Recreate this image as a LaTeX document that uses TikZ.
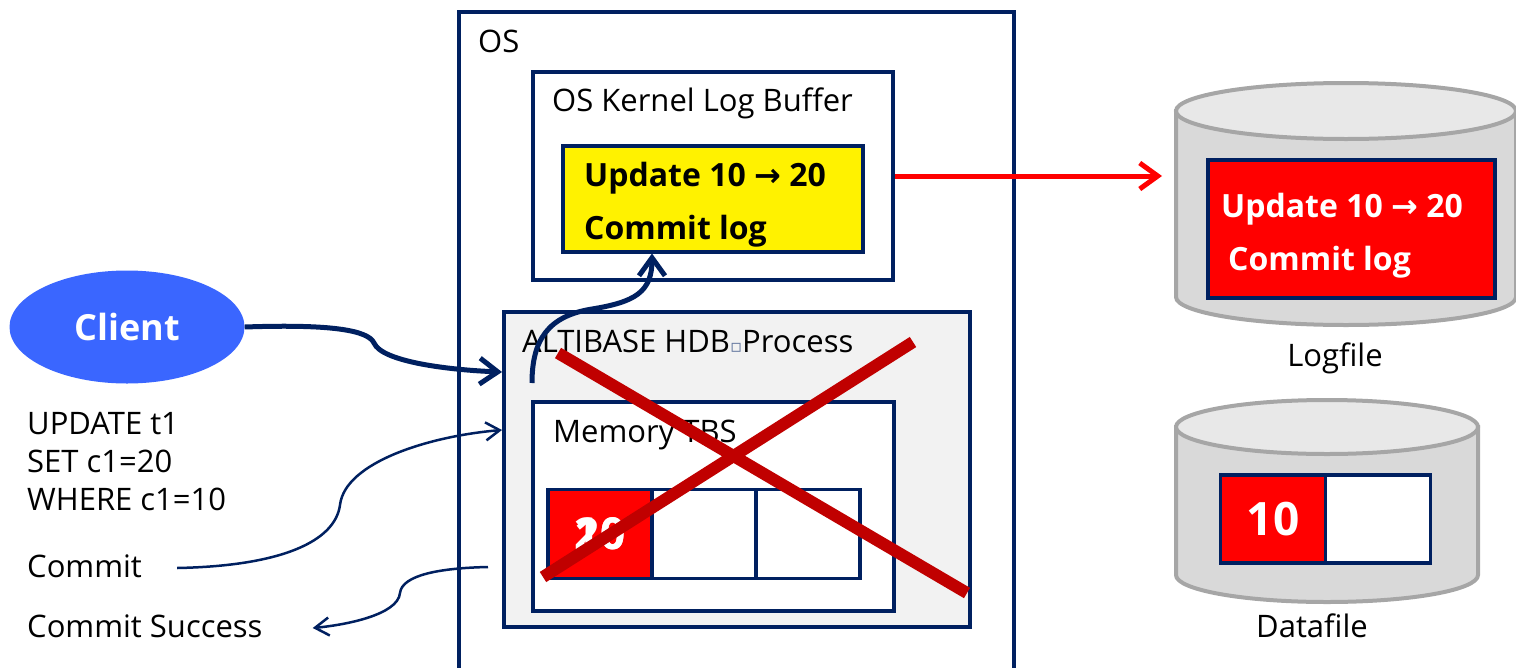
\documentclass[tikz,border=0pt]{standalone}
\usepackage{fontspec}
\setmainfont{Open Sans}
\newfontfamily\dejavu{DejaVu Sans}
\usetikzlibrary{calc,positioning,arrows.meta,shapes.geometric}

\definecolor{navy}{RGB}{0,32,96}
\definecolor{clientblue}{RGB}{58,102,255}
\definecolor{xred}{RGB}{192,0,0}
\definecolor{diskside}{RGB}{217,217,217}
\definecolor{disktop}{RGB}{232,232,232}
\definecolor{diskline}{RGB}{166,166,166}
\definecolor{procgray}{RGB}{242,242,242}

\begin{document}
\begin{tikzpicture}[
    x=1pt,y=-1pt,
    box/.style={draw=navy,line width=3.5pt,inner sep=0pt,anchor=north west},
    cell/.style={draw=navy,line width=3.5pt,fill=white,minimum width=104,minimum height=89,inner sep=0pt},
    lbl/.style={anchor=base west,inner sep=0pt,font=\fontsize{31}{38}\selectfont},
    rec/.style={anchor=base west,inner sep=0pt,align=left,font=\bfseries\fontsize{32}{53}\selectfont},
    disk/.style={draw=diskline,line width=4pt,fill=diskside},
    flow/.style={draw=navy,line width=5pt,-{Straight Barb[length=18pt,width=26pt]}},
    reply/.style={draw=navy,line width=2.5pt,-{Straight Barb[length=14pt,width=18pt]}},
    cross/.style={draw=xred,line width=12pt},
  ]

  \useasboundingbox (0,0) rectangle (1516,667);

  % os and kernel log buffer

  \node (os) at (457,10) [box,minimum width=555,minimum height=720] {};
  \node (oslbl) at (478,52) [lbl] {OS};

  \node (kbuf) at (531,70) [box,fill=white,minimum width=360,minimum height=208] {};
  \node (kbuflbl) at (552,111) [lbl] {OS Kernel Log Buffer};

  \node (ubuf) at (561,144) [box,fill=yellow,minimum width=300,minimum height=106] {};
  \node (ubuftxt) at (584,239) [rec] {Update 10 {\dejavu →} 20\\Commit log};

  % altibase process and memory tbs

  \node (proc) at (502,310) [box,fill=procgray,minimum width=466,minimum height=315] {};
  \node (proclbl) at (522,352) [lbl] {ALTIBASE HDB{\dejavu\fontsize{18}{18}\selectfont\color{navy!60}▫}Process};

  \node (mem) at (531,400) [box,fill=white,minimum width=361,minimum height=209] {};
  \node (memlbl) at (553,442) [lbl] {Memory TBS};

  \node (m0) at (600,534) [cell,fill=red] {};
  \node (m1) [cell,right=-3.5pt of m0] {};
  \node (m2) [cell,right=-3.5pt of m1] {};
  \node (m0old) at (m0) [text=white,font=\bfseries\fontsize{44}{44}\selectfont] {10};
  \node (m0new) at (m0) [text=white,font=\bfseries\fontsize{44}{44}\selectfont] {20};

  % logfile disk

  \path[disk] (1176,111) -- (1176,297) arc[start angle=180,end angle=0,x radius=170,y radius=28] -- (1516,111) -- cycle;
  \path[disk,fill=disktop] (1346,111) ellipse[x radius=170,y radius=28];

  \node (lrec) at (1206,158) [box,fill=red,minimum width=287,minimum height=138] {};
  \node (lrectxt) at (1221,270) [rec,text=white] {Update 10 {\dejavu →} 20\\\hspace{7pt}Commit log};
  \node (loglbl) at (1335,366) [lbl,anchor=base] {Logfile};

  % datafile disk

  \path[disk] (1176,427) -- (1176,575) arc[start angle=180,end angle=0,x radius=151,y radius=27] -- (1478,427) -- cycle;
  \path[disk,fill=disktop] (1327,427) ellipse[x radius=151,y radius=27];

  \node (d0) at (1273,519) [cell,fill=red,minimum width=105,minimum height=88] {};
  \node (d1) [cell,right=-3.5pt of d0,minimum width=105,minimum height=88] {};
  \node (d0txt) at (d0) [text=white,font=\bfseries\fontsize{46}{46}\selectfont] {10};
  \node (datlbl) at (1312,637) [lbl,anchor=base] {Datafile};

  % client and statements

  \node (client) at (127,327) [ellipse,fill=clientblue,minimum width=235,minimum height=113,inner sep=0pt,text=white,font=\bfseries\fontsize{36}{36}\selectfont] {Client};
  \node (sql) at (27,510) [lbl,align=left] {UPDATE t1\\SET c1=20\\WHERE c1=10};
  \node (commit) at (27,577) [lbl] {Commit};
  \node (csucc) at (27,637) [lbl] {Commit Success};

  % arrows

  \coordinate (procin) at ($(proc.north west)+(0,62)$);
  \draw[flow] (client.east) .. controls (330,324) and (368,330) .. (374,343) .. controls (382,362) and (450,370) .. (procin);

  \coordinate (procup) at (532,383);
  \draw[flow] (procup) .. controls (532,340) and (548,316) .. (592,309) .. controls (635,302) and (652,292) .. ($(ubuf.south west)+(91,0)$);

  \coordinate (login) at (1162,176);
  \draw[flow,draw=red] (kbuf.east |- login) -- (login);

  \coordinate (cmtout) at ($(commit.base east)+(35,-9)$);
  \coordinate (cmtin) at (502,430);
  \draw[reply] (cmtout) .. controls (280,566) and (335,542) .. (340,505) .. controls (345,462) and (430,436) .. (cmtin);

  \coordinate (succout) at (488,567);
  \draw[reply] (succout) .. controls (440,568) and (402,575) .. (400,593) .. controls (398,615) and (345,625) .. ($(csucc.base east)+(50,-9)$);

  % crossed out process

  \draw[cross] (558,353) -- (967,593);
  \draw[cross] (913,342) -- (543,577);

\end{tikzpicture}
\end{document}
